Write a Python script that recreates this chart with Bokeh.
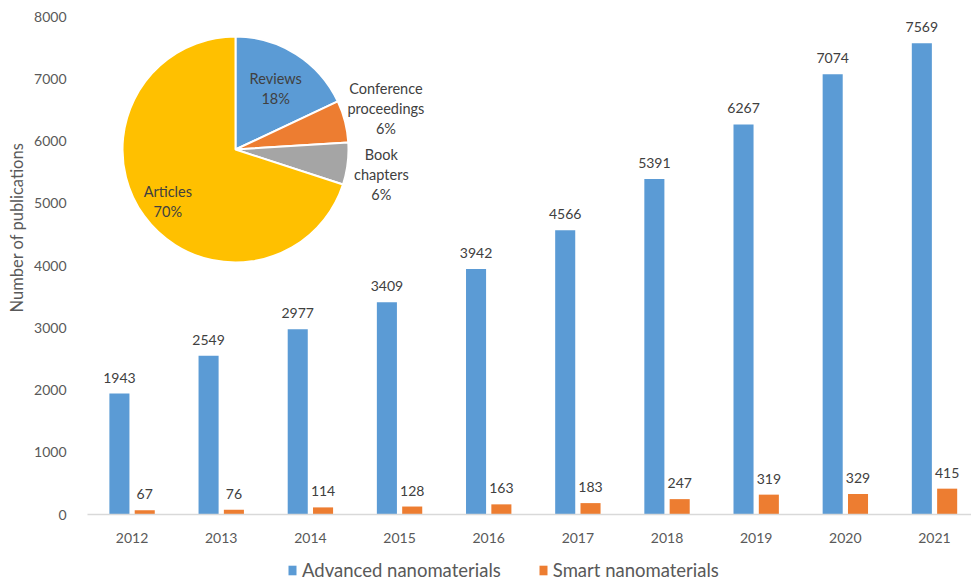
import numpy as np
from bokeh.plotting import figure
from bokeh.layouts import column
from bokeh.models import (Range1d, FixedTicker, Legend, LegendItem,
                          ColumnDataSource, Title)
from bokeh.transform import dodge
from bokeh.core.properties import value
from bokeh.embed import file_html
from bokeh.resources import INLINE

# ---- data ----
years = ["2012", "2013", "2014", "2015", "2016", "2017", "2018", "2019", "2020", "2021"]
advanced = [1943, 2549, 2977, 3409, 3942, 4566, 5391, 6267, 7074, 7569]
smart = [67, 76, 114, 128, 163, 183, 247, 319, 329, 415]
y_ticks = [0, 1000, 2000, 3000, 4000, 5000, 6000, 7000, 8000]
series_names = ["Advanced nanomaterials", "Smart nanomaterials"]

pie_names = ["Reviews", "Conference\nproceedings", "Book\nchapters", "Articles"]
pie_shares = [18, 6, 6, 70]

# ---- style ----
BLUE = "#5B9BD5"
ORANGE = "#ED7D31"
pie_colors = ["#5B9BD5", "#ED7D31", "#A5A5A5", "#FFC000"]
pie_label_r = [73, 156, 148, 85.4]        # label distance from centre, px
pie_label_turn = [1.0, -1.0, 2.5, -1.6]   # label angle tweak, degrees
PIE_CX, PIE_CY, PIE_R = 1.16, 5863, 113   # pie placement (data x, data y, px radius)
FONT = "Lato"
AXIS_TXT = "#595959"
LBL_TXT = "#404040"

idx = list(range(len(years)))
src = ColumnDataSource(dict(
    idx=idx, adv=advanced, sm=smart,
    adv_s=[str(v) for v in advanced], sm_s=[str(v) for v in smart]))

p = figure(width=971, height=551, output_backend="svg", toolbar_location=None,
           x_range=Range1d(-0.5, 9.415), y_range=Range1d(0, 8000),
           min_border_left=81, min_border_right=0, min_border_top=16,
           min_border_bottom=37)
p.outline_line_color = None
p.xgrid.visible = False
p.ygrid.visible = False
p.background_fill_color = "white"
p.border_fill_color = "white"

OFF = 0.142
W = 0.225
r1 = p.vbar(x=dodge("idx", -OFF, range=p.x_range), top="adv", width=W,
            source=src, fill_color=BLUE, line_color=None)
r2 = p.vbar(x=dodge("idx", OFF, range=p.x_range), top="sm", width=W,
            source=src, fill_color=ORANGE, line_color=None)

for col, lab, off in [("adv", "adv_s", -OFF), ("sm", "sm_s", OFF)]:
    p.text(x=dodge("idx", off, range=p.x_range), y=col, text=lab, source=src,
           text_align="center", text_baseline="middle", y_offset=-16,
           text_font=value(FONT), text_font_size="14px", text_color=LBL_TXT)

# ---- pie ----
shares = np.array(pie_shares, dtype=float) / sum(pie_shares)
cum = np.concatenate([[0], np.cumsum(shares)])
start = np.pi / 2 - cum[:-1] * 2 * np.pi
end = np.pi / 2 - cum[1:] * 2 * np.pi
mid = (cum[:-1] + cum[1:]) / 2 * 2 * np.pi + np.radians(pie_label_turn)
pie_src = ColumnDataSource(dict(
    x=[PIE_CX] * 4, y=[PIE_CY] * 4, start=start, end=end, color=pie_colors,
    label=[f"{n}\n{s}%" for n, s in zip(pie_names, pie_shares)],
    xo=[r * np.sin(m) for r, m in zip(pie_label_r, mid)],
    yo=[-r * np.cos(m) for r, m in zip(pie_label_r, mid)]))
p.wedge(x="x", y="y", radius=PIE_R, radius_units="screen",
        start_angle="start", end_angle="end", direction="clock",
        fill_color="color", line_color="white", line_width=2, source=pie_src)
p.text(x="x", y="y", text="label", x_offset="xo", y_offset="yo", source=pie_src,
       text_align="center", text_baseline="middle", text_line_height=1.18,
       text_font=value(FONT), text_font_size="14.5px", text_color=LBL_TXT)

# ---- axes ----
xa = p.xaxis[0]
xa.ticker = FixedTicker(ticks=idx)
xa.major_label_overrides = {i: y for i, y in zip(idx, years)}
xa.major_tick_line_color = None
xa.minor_tick_line_color = None
xa.axis_line_color = "#D9D9D9"
xa.axis_line_width = 1.5
xa.major_label_standoff = 12
xa.major_label_text_font = FONT
xa.major_label_text_font_size = "14px"
xa.major_label_text_color = AXIS_TXT

ya = p.yaxis[0]
ya.ticker = FixedTicker(ticks=y_ticks)
ya.axis_line_color = None
ya.major_tick_line_color = None
ya.minor_tick_line_color = None
ya.major_label_standoff = 15
ya.major_label_text_font = FONT
ya.major_label_text_font_size = "14px"
ya.major_label_text_color = AXIS_TXT

p.add_layout(Title(text="Number of publications", align="left", offset=202,
                   text_font=FONT, text_font_size="16.5px",
                   text_font_style="normal", text_color=AXIS_TXT,
                   standoff=9), "left")

# ---- legend strip ----
p2 = figure(width=971, height=30, output_backend="svg", toolbar_location=None,
            x_range=Range1d(0, 1), y_range=Range1d(0, 1),
            min_border=0, min_border_left=0, min_border_right=0,
            min_border_top=0, min_border_bottom=0)
p2.axis.visible = False
p2.grid.visible = False
p2.outline_line_color = None
lr1 = p2.vbar(x=[-5], top=[-5], bottom=[-6], width=0.1, fill_color=BLUE, line_color=None)
lr2 = p2.vbar(x=[-5], top=[-5], bottom=[-6], width=0.1, fill_color=ORANGE, line_color=None)
legend = Legend(items=[LegendItem(label=series_names[0], renderers=[lr1]),
                       LegendItem(label=series_names[1], renderers=[lr2])],
                orientation="horizontal", location=(200, 0),
                border_line_color=None, background_fill_alpha=0,
                label_text_font=FONT, label_text_font_size="18.5px",
                label_text_color=AXIS_TXT, glyph_width=10, glyph_height=12,
                label_standoff=5, spacing=37, padding=0, margin=0)
p2.add_layout(legend, "center")

layout = column(p, p2, spacing=0)
open("out.html", "w").write(file_html(layout, INLINE))
